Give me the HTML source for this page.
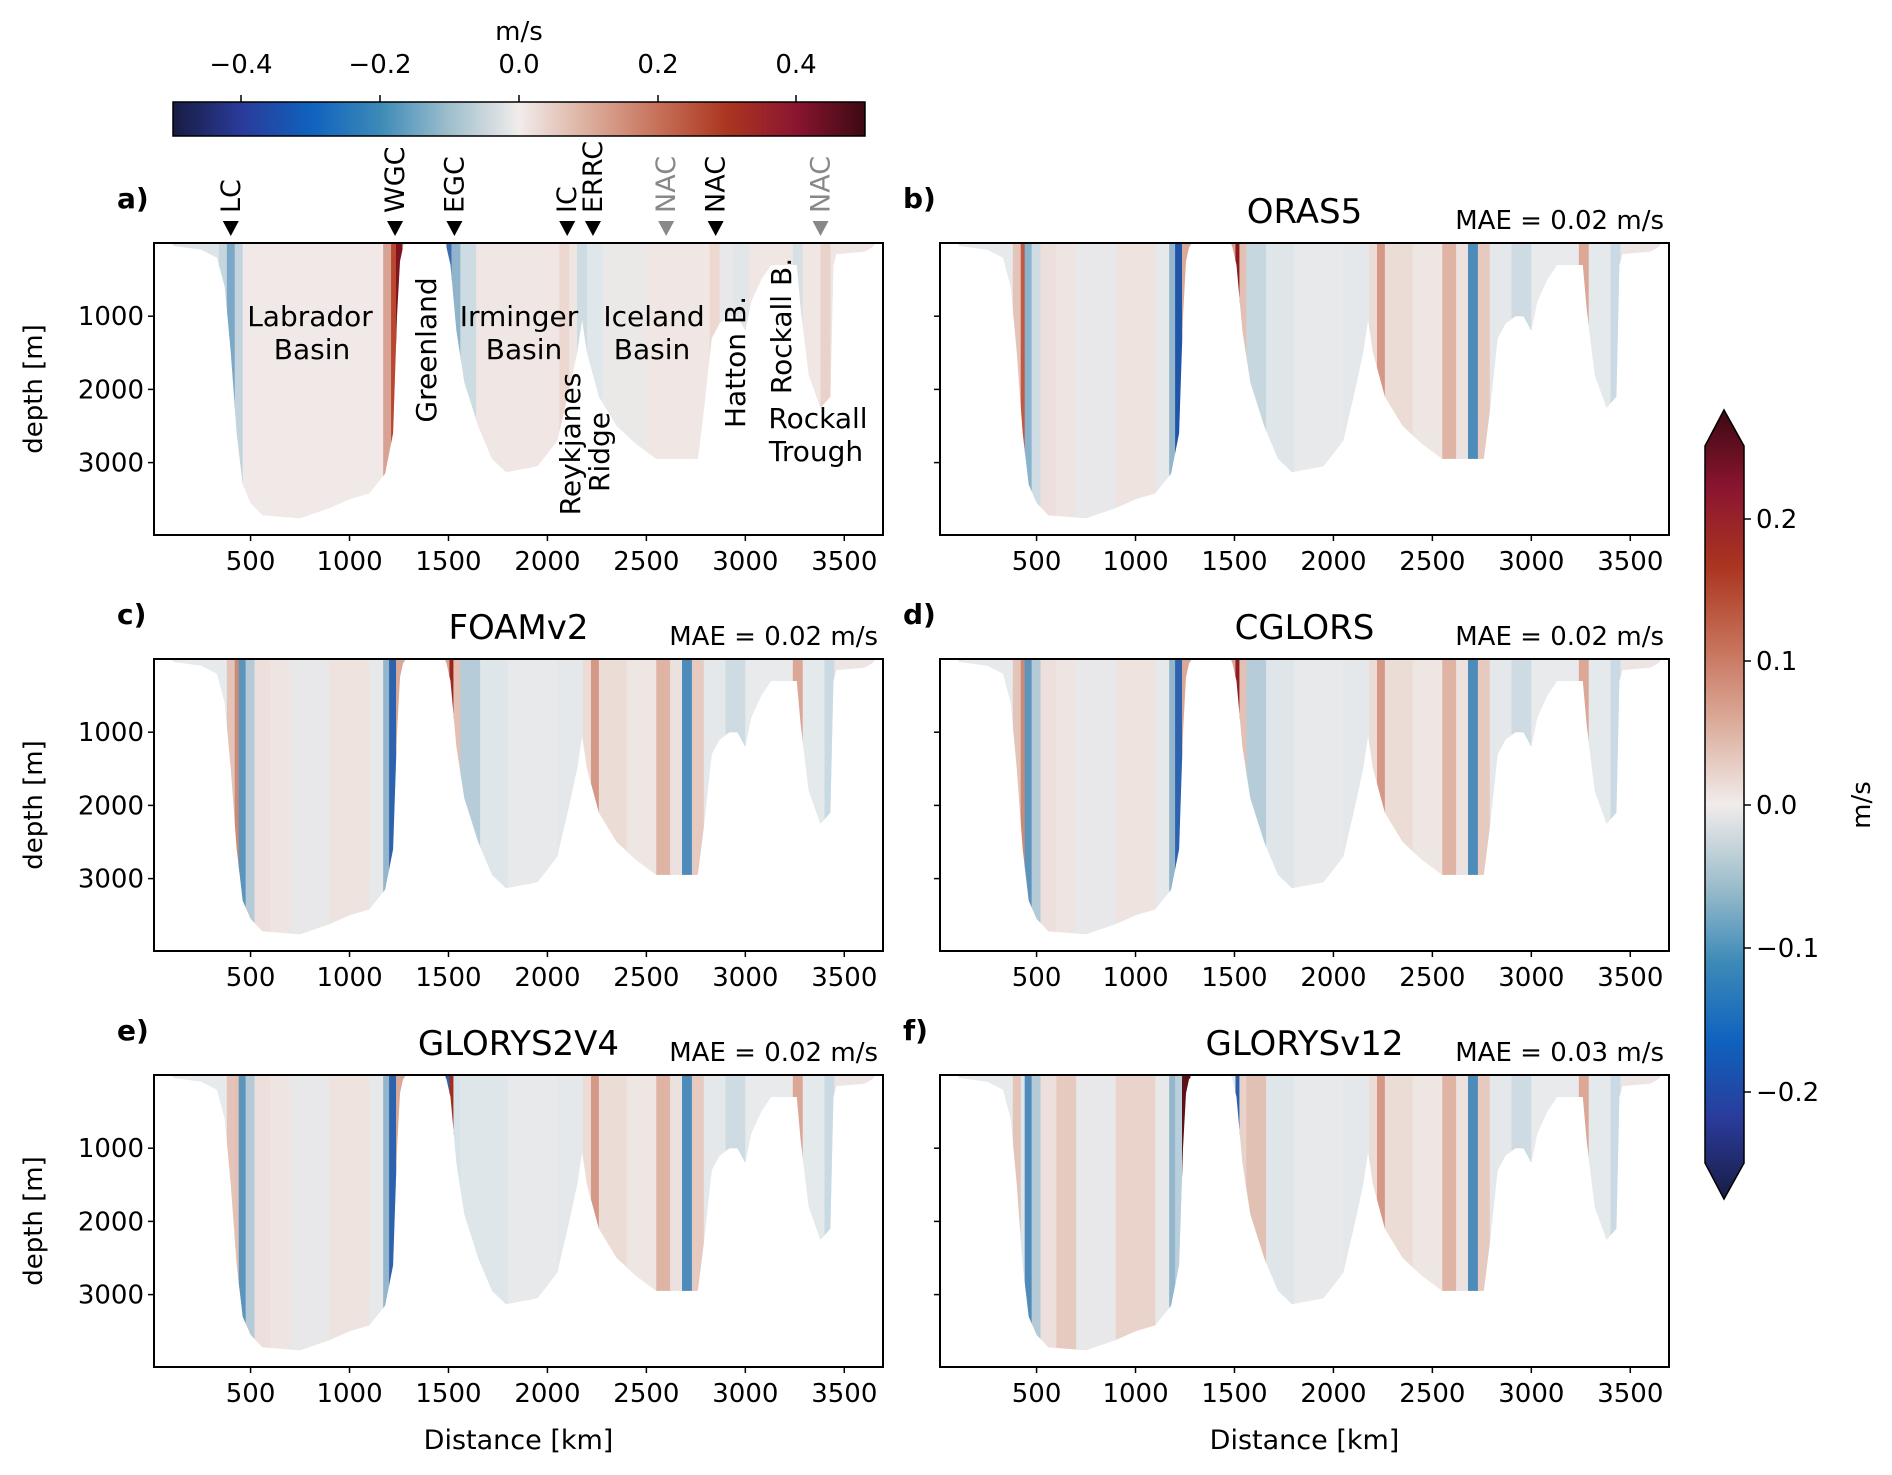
<!DOCTYPE html>
<html><head><meta charset="utf-8">
<style>
html,body{margin:0;padding:0;background:#fff;}
svg{display:block;font-family:"DejaVu Sans","Liberation Sans",sans-serif;}
</style></head>
<body>
<svg id="s" width="1892" height="1475" viewBox="0 0 1892 1475" xmlns="http://www.w3.org/2000/svg">
<defs>
<linearGradient id="balH" x1="0" x2="1" y1="0" y2="0">
<stop offset="0" stop-color="#181c43"/><stop offset="0.1" stop-color="#2a3b9a"/><stop offset="0.2" stop-color="#0f62be"/>
<stop offset="0.3" stop-color="#3d8ab8"/><stop offset="0.4" stop-color="#9fbfcc"/><stop offset="0.5" stop-color="#f1eceb"/>
<stop offset="0.6" stop-color="#dcae9d"/><stop offset="0.7" stop-color="#c7715a"/><stop offset="0.8" stop-color="#ab3620"/>
<stop offset="0.9" stop-color="#8b1530"/><stop offset="1" stop-color="#3c0912"/>
</linearGradient>
<linearGradient id="balV" x1="0" x2="0" y1="1" y2="0">
<stop offset="0" stop-color="#181c43"/><stop offset="0.1" stop-color="#2a3b9a"/><stop offset="0.2" stop-color="#0f62be"/>
<stop offset="0.3" stop-color="#3d8ab8"/><stop offset="0.4" stop-color="#9fbfcc"/><stop offset="0.5" stop-color="#f1eceb"/>
<stop offset="0.6" stop-color="#dcae9d"/><stop offset="0.7" stop-color="#c7715a"/><stop offset="0.8" stop-color="#ab3620"/>
<stop offset="0.9" stop-color="#8b1530"/><stop offset="1" stop-color="#3c0912"/>
</linearGradient>
</defs>
<g id="root"></g>
</svg>
<script>
const NS="http://www.w3.org/2000/svg";
const root=document.getElementById('root');
const defs=document.querySelector('defs');
function el(tag,attrs,parent,text){const e=document.createElementNS(NS,tag);for(const k in attrs)e.setAttribute(k,attrs[k]);if(text!==undefined)e.textContent=text;(parent||root).appendChild(e);return e;}
const W=729,H=292;
const kx=km=>(km-12)*0.1979;
const dy=m=>m*0.0732;
const bathy=[[100,0],[110,40],[250,90],[330,200],[370,600],[400,1500],[430,2600],[460,3300],[500,3550],[560,3720],[750,3760],[900,3620],[1000,3500],[1100,3420],[1180,3150],[1220,2600],[1240,1000],[1255,250],[1270,60],[1290,0],[1480,0],[1490,60],[1510,300],[1540,1200],[1580,1900],[1650,2500],[1720,2950],[1790,3130],[1950,3050],[2050,2700],[2110,2000],[2150,1500],[2175,1050],[2200,1500],[2260,2100],[2350,2500],[2450,2750],[2550,2950],[2760,2950],[2790,2300],[2830,1300],[2870,1100],[2920,1000],[2960,1000],[3000,1200],[3030,800],[3080,500],[3130,300],[3260,300],[3280,900],[3320,1800],[3380,2250],[3430,2100],[3445,300],[3460,150],[3600,120],[3640,60],[3660,0]];
function bathyPath(ox,oy){let d=`M${ox+kx(100)},${oy}`;for(const[k,m]of bathy)d+=` L${(ox+kx(k)).toFixed(1)},${(oy+dy(m)).toFixed(1)}`;d+=' Z';return d;}
const stripesA=[[100,340,'#dde5e9'],[340,380,'#c6d6df'],[380,420,'#7aa8c6'],[420,460,'#c3d4de'],[460,1170,'#f1e9e7'],[1170,1210,'#d7a293'],[1210,1235,'#b9472e'],[1235,1265,'#7e1420'],[1490,1515,'#3a6cb0'],[1515,1560,'#8fb3ca'],[1560,1640,'#cddbe2'],[1640,2060,'#f0e6e3'],[2060,2110,'#ecd8d0'],[2110,2150,'#efe5e2'],[2150,2200,'#cddbe2'],[2200,2280,'#e0e7ea'],[2280,2500,'#ebe8e8'],[2500,2780,'#f0e6e3'],[2820,2870,'#ecd8d0'],[2870,2940,'#e8e8ea'],[2940,3020,'#e1e6e9'],[3020,3240,'#f0e7e4'],[3240,3290,'#d7e0e5'],[3290,3380,'#f0e7e4'],[3380,3430,'#e8d2c9'],[3430,3660,'#efe5e2']];
function S(){return [[100,380,'#e6eaec'],[380,420,'#e4c3b8'],[420,440,'#c98a78'],[440,475,'#5c94bc'],[475,520,'#b4cad7'],[520,600,'#ede0dc'],[600,700,'#eee5e2'],[700,900,'#e8e8ea'],[900,1100,'#efe3df'],[1100,1170,'#e6e8ea'],[1170,1200,'#93b6cc'],[1200,1235,'#2c62ae'],[1235,1275,'#dca898'],
[1485,1505,'#d9a596'],[1505,1525,'#9c261c'],[1525,1560,'#e4c0b4'],[1560,1660,'#b6cdd9'],[1660,1800,'#dfe6ea'],[1800,2050,'#e8e9eb'],[2050,2180,'#e4e8ea'],[2180,2220,'#eddcd6'],[2220,2260,'#d69886'],[2260,2400,'#ecdcd6'],[2400,2550,'#eee6e3'],[2550,2620,'#e0b4a5'],[2620,2680,'#ebe2df'],[2680,2730,'#4d8cba'],[2730,2790,'#e6c9bf'],[2790,2900,'#e5e8ea'],[2900,3000,'#cfdbe2'],[3000,3240,'#e9eaeb'],[3240,3290,'#dca796'],[3290,3400,'#e4e9ec'],[3400,3450,'#c9dae4'],[3450,3660,'#ece5e3']];}
function variant(mods){const s=S();for(const[k,c]of mods){for(const r of s)if(r[0]===k)r[2]=c;}return s;}
const panels=[
{id:'a',ox:154,oy:243,st:stripesA,title:null},
{id:'b',ox:940,oy:243,st:variant([[420,'#c05a44'],[440,'#8ab3cd'],[475,'#cfdce4'],[1200,'#1f55a8'],[1505,'#8b1b1b'],[1560,'#c7d7e0']]),title:'ORAS5',mae:'MAE = 0.02 m/s'},
{id:'c',ox:154,oy:659,st:variant([]),title:'FOAMv2',mae:'MAE = 0.02 m/s'},
{id:'d',ox:940,oy:659,st:variant([[1505,'#8e1d22']]),title:'CGLORS',mae:'MAE = 0.02 m/s'},
{id:'e',ox:154,oy:1075,st:variant([[420,'#e2c1b5'],[1485,'#2c62ae'],[1505,'#a32c1f'],[1525,'#d8e3e9'],[1560,'#dfe6ea']]),title:'GLORYS2V4',mae:'MAE = 0.02 m/s'},
{id:'f',ox:940,oy:1075,st:variant([[420,'#dde6ea'],[440,'#4f8cba'],[1200,'#b9d0dc'],[1235,'#5a1015'],[1485,'#e6eaec'],[1505,'#2b5fab'],[1525,'#e8d2ca'],[1560,'#e2c1b5'],[600,'#e6c9bf'],[900,'#e9d3cb']]),title:'GLORYSv12',mae:'MAE = 0.03 m/s'}
];
panels.forEach((p)=>{
  const cp=el('clipPath',{id:'cp'+p.id},defs);el('path',{d:bathyPath(p.ox,p.oy)},cp);
  const g=el('g',{'clip-path':`url(#cp${p.id})`});
  el('rect',{x:p.ox,y:p.oy,width:W,height:H,fill:p.id=='a'?'#f0e6e3':'#ebe7e7'},g);
  for(const[a,b,c]of p.st)el('rect',{x:p.ox+kx(a),y:p.oy,width:kx(b)-kx(a)+0.5,height:H,fill:c},g);
  el('rect',{x:p.ox,y:p.oy,width:W,height:H,fill:'none',stroke:'#000','stroke-width':2});
  for(let v=500;v<=3500;v+=500){const x=p.ox+kx(v);el('line',{x1:x,x2:x,y1:p.oy+H,y2:p.oy+H+6,stroke:'#000','stroke-width':1.5});
    el('text',{x:x,y:p.oy+H+35,'font-size':26,'text-anchor':'middle'},null,String(v));}
  for(const v of [1000,2000,3000]){const y=p.oy+dy(v);el('line',{x1:p.ox-6,x2:p.ox,y1:y,y2:y,stroke:'#000','stroke-width':1.5});
    if(p.ox<500)el('text',{x:p.ox-10,y:y+9,'font-size':26,'text-anchor':'end'},null,String(v));}
  if(p.ox<500)el('text',{transform:`translate(42,${p.oy+146}) rotate(-90)`,'font-size':26,'text-anchor':'middle'},null,'depth [m]');
  el('text',{x:p.ox-37,y:p.oy-35,'font-size':28,'font-weight':'bold'},null,p.id+')');
  if(p.title){el('text',{x:p.ox+W/2,y:p.oy-20,'font-size':34,'text-anchor':'middle'},null,p.title);
    el('text',{x:p.ox+W-5,y:p.oy-14,'font-size':26,'text-anchor':'end'},null,p.mae);}
  if(p.oy>1000)el('text',{x:p.ox+W/2,y:1449,'font-size':27,'text-anchor':'middle'},null,'Distance [km]');
});
el('rect',{x:173,y:102,width:692,height:34,fill:'url(#balH)',stroke:'#000','stroke-width':1.5});
el('text',{x:519,y:40,'font-size':26,'text-anchor':'middle'},null,'m/s');
[['\u22120.4',241],['\u22120.2',380],['0.0',519],['0.2',658],['0.4',796]].forEach(([t,x])=>{
  el('line',{x1:x,x2:x,y1:95,y2:102,stroke:'#000','stroke-width':1.5});
  el('text',{x:x,y:73,'font-size':26,'text-anchor':'middle'},null,t);});
const arr=[['LC',400,'#000'],['WGC',1230,'#000'],['EGC',1530,'#000'],['IC',2100,'#000'],['ERRC',2230,'#000'],['NAC',2600,'#888'],['NAC',2850,'#000'],['NAC',3380,'#888']];
arr.forEach(([t,k,c])=>{const x=154+kx(k);
  el('path',{d:`M${x-8},${221} L${x+8},${221} L${x},${236} Z`,fill:c});
  el('text',{transform:`translate(${x+9},${213}) rotate(-90)`,'font-size':27,fill:c},null,t);});
const A=(t,x,y,rot)=>el('text',{transform:`translate(${x},${y})`+(rot?' rotate(-90)':''),'font-size':28,'text-anchor':'middle'},null,t);
A('Labrador',310,326);A('Basin',312,359);
A('Irminger',519,326);A('Basin',524,359);
A('Iceland',654,326);A('Basin',652,359);
A('Greenland',436,350,1);
A('Reykjanes',580,444,1);A('Ridge',609,452,1);
A('Hatton B.',745,362,1);A('Rockall B.',791,326,1);
A('Rockall',818,428);A('Trough',816,461);
el('path',{d:'M1705,446 L1724,410 L1744,446 L1744,1163 L1724,1199 L1705,1163 Z',fill:'url(#balV)',stroke:'#000','stroke-width':1.5});
[['0.2',519],['0.1',661],['0.0',805],['\u22120.1',948],['\u22120.2',1092]].forEach(([t,y])=>{
  el('line',{x1:1744,x2:1751,y1:y,y2:y,stroke:'#000','stroke-width':1.5});
  el('text',{x:1756,y:y+9,'font-size':26},null,t);});
el('text',{transform:'translate(1870,805) rotate(-90)','font-size':26,'text-anchor':'middle'},null,'m/s');
</script>
</body></html>
